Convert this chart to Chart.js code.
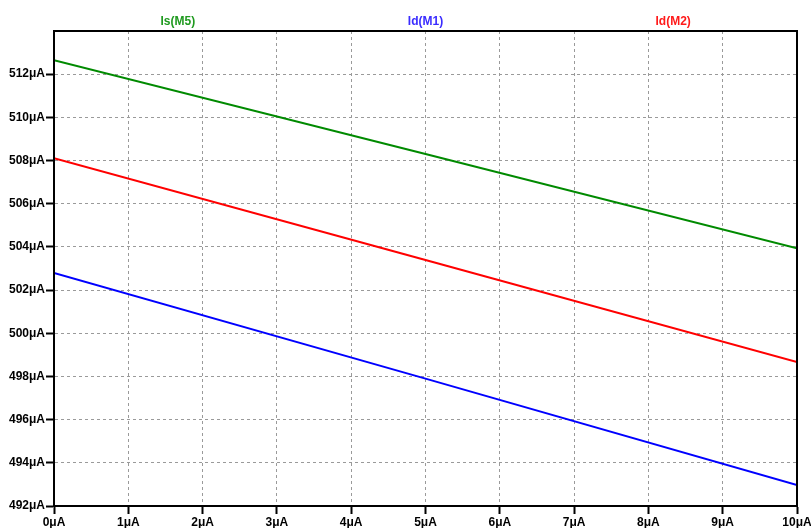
<!DOCTYPE html>
<html>
<head>
<meta charset="utf-8">
<script src="https://cdn.jsdelivr.net/npm/chart.js@4/dist/chart.umd.min.js"></script>
<style>
  html, body { margin: 0; padding: 0; background: #fff; }
  #wrap { width: 811px; height: 528px; position: relative; }
</style>
</head>
<body>
<div id="wrap"><canvas id="c"></canvas></div>
<script>
// Sweep values (μA) and traced currents (μA)
const sweep = [0, 5, 10];
const isM5 = [512.65, 508.30, 503.94];
const idM1 = [502.79, 497.90, 492.97];
const idM2 = [508.11, 503.39, 498.67];

const seriesNames = ['Is(M5)', 'Id(M1)', 'Id(M2)'];
const seriesColors = ['#008a00', '#0000ff', '#ff0000'];
const labelColors = ['#1f9a1f', '#3a2cff', '#ff1a1a'];

const yMin = 492, yMax = 514, yStep = 2;
const xMin = 0, xMax = 10, xStep = 1;

const FONT = '"Liberation Sans", Arial, sans-serif';

function toPoints(vals) {
  return sweep.map((x, i) => ({ x: x, y: vals[i] }));
}

// Trace names above the plot plus the closed frame
const framePlugin = {
  id: 'frame',
  afterDatasetsDraw(chart) {
    const { ctx, chartArea: a } = chart;
    ctx.save();
    ctx.strokeStyle = '#000';
    ctx.lineWidth = 2;
    ctx.strokeRect(a.left, a.top, a.right - a.left, a.bottom - a.top);
    ctx.font = 'bold 12px ' + FONT;
    ctx.textAlign = 'center';
    ctx.textBaseline = 'middle';
    const w = a.right - a.left;
    seriesNames.forEach((n, i) => {
      ctx.fillStyle = labelColors[i];
      ctx.fillText(n, a.left + w * (2 * i + 1) / 6, 22);
    });
    ctx.restore();
  }
};

const tickFont = { family: FONT, size: 12, weight: 'bold' };

function gridOpts() {
  return {
    color: '#9a9a9a',
    lineWidth: 1,
    tickColor: '#000',
    tickLength: 8,
    tickWidth: 2,
    tickBorderDash: []
  };
}

// Solid black axis line; dashed grid lines
function borderOpts() {
  return { display: true, color: '#000', width: 2, dash: [3, 3] };
}

new Chart(document.getElementById('c'), {
  type: 'line',
  data: {
    datasets: [
      { label: seriesNames[0], data: toPoints(isM5), borderColor: seriesColors[0] },
      { label: seriesNames[1], data: toPoints(idM1), borderColor: seriesColors[1] },
      { label: seriesNames[2], data: toPoints(idM2), borderColor: seriesColors[2] }
    ].map(d => Object.assign(d, { borderWidth: 2, pointRadius: 0, fill: false, tension: 0 }))
  },
  options: {
    responsive: true,
    maintainAspectRatio: false,
    animation: false,
    layout: { padding: { top: 31, right: 14, left: 0, bottom: 0 } },
    plugins: { legend: { display: false }, tooltip: { enabled: false } },
    scales: {
      x: {
        type: 'linear',
        min: xMin, max: xMax,
        ticks: {
          stepSize: xStep,
          color: '#000',
          font: tickFont,
          padding: 1,
          maxRotation: 0,
          autoSkip: false,
          callback: v => v + 'μA'
        },
        grid: gridOpts(),
        border: borderOpts(),
        afterFit(scale) {
          scale.height = 22;
          scale.paddingLeft = 0;
          scale.paddingRight = 0;
        }
      },
      y: {
        type: 'linear',
        min: yMin, max: yMax,
        afterBuildTicks(scale) {
          scale.ticks = scale.ticks.filter(t => t.value < yMax);
        },
        ticks: {
          stepSize: yStep,
          color: '#000',
          font: tickFont,
          padding: 1,
          callback: v => v + 'μA'
        },
        grid: gridOpts(),
        border: borderOpts(),
        afterFit(scale) { scale.width = 54; }
      }
    }
  },
  plugins: [framePlugin]
});
</script>
</body>
</html>
